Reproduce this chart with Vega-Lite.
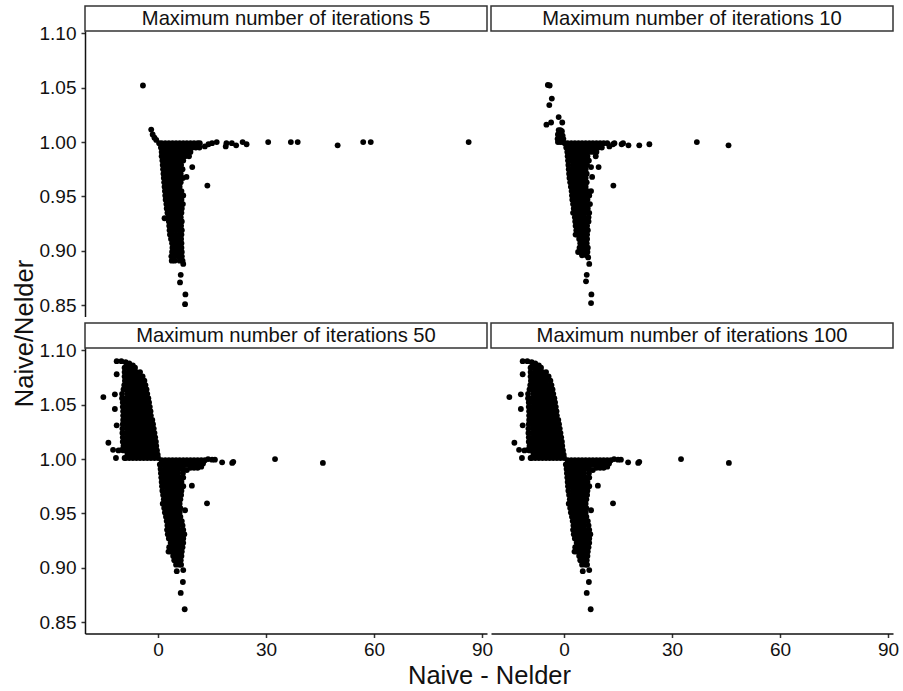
{"$schema":"https://vega.github.io/schema/vega-lite/v6.json","background":"white","padding":{"left":12,"top":5,"right":5,"bottom":0},"config":{"view":{"stroke":null},"font":"Liberation Sans"},"datasets":{"m5":[
{"x":-4.2,"y":1.052},{"x":-1.9,"y":1.0115},{"x":-1.5,"y":1.007},{"x":-1,"y":1.004},{"x":-0.5,"y":1.002},{"x":30.6,"y":1},{"x":36.9,"y":1},{"x":38.8,"y":1},{"x":49.9,"y":0.997},{"x":57,"y":1},{"x":59.1,"y":1},{"x":86.3,"y":1},{"x":24.6,"y":0.998},{"x":23.5,"y":1},{"x":21.7,"y":0.997},{"x":20.5,"y":0.999},{"x":18.8,"y":0.996},{"x":19,"y":0.999},{"x":16.3,"y":1},{"x":15,"y":0.999},{"x":14,"y":0.998},{"x":13,"y":0.996},{"x":13.7,"y":0.96},{"x":9.5,"y":0.977},{"x":7.9,"y":0.968},{"x":1.8,"y":0.93},{"x":6.3,"y":0.878},{"x":6.1,"y":0.871},{"x":7.6,"y":0.86},{"x":7.5,"y":0.851},{"x":7,"y":0.888},
{"x":0.3,"y":0.999},{"x":1,"y":0.999},{"x":2,"y":0.999},{"x":3,"y":0.999},{"x":4,"y":0.999},{"x":5,"y":0.999},{"x":6,"y":0.999},{"x":7,"y":0.999},{"x":8,"y":0.999},{"x":9,"y":0.999},{"x":10,"y":0.999},{"x":11,"y":0.999},{"x":11.6,"y":0.999},
{"x":0.8,"y":0.995},{"x":1.5,"y":0.995},{"x":2.5,"y":0.995},{"x":3.5,"y":0.995},{"x":4.5,"y":0.995},{"x":5.5,"y":0.995},{"x":6.5,"y":0.995},{"x":7.5,"y":0.995},{"x":8.5,"y":0.995},{"x":9.5,"y":0.995},{"x":10.5,"y":0.995},{"x":11.5,"y":0.995},
{"x":1,"y":0.991},{"x":2,"y":0.991},{"x":3,"y":0.991},{"x":4,"y":0.991},{"x":5,"y":0.991},{"x":6,"y":0.991},{"x":7,"y":0.991},{"x":8,"y":0.991},{"x":9,"y":0.991},
{"x":1,"y":0.987},{"x":1.5,"y":0.987},{"x":2.5,"y":0.987},{"x":3.5,"y":0.987},{"x":4.5,"y":0.987},{"x":5.5,"y":0.987},{"x":6.5,"y":0.987},{"x":7.5,"y":0.987},{"x":8.6,"y":0.987},
{"x":1.2,"y":0.983},{"x":2,"y":0.983},{"x":3,"y":0.983},{"x":4,"y":0.983},{"x":5,"y":0.983},{"x":6,"y":0.983},{"x":7,"y":0.983},
{"x":1.3,"y":0.979},{"x":2.5,"y":0.979},{"x":3.5,"y":0.979},{"x":4.5,"y":0.979},{"x":5.5,"y":0.979},{"x":6.4,"y":0.979},
{"x":1.4,"y":0.975},{"x":2,"y":0.975},{"x":3,"y":0.975},{"x":4,"y":0.975},{"x":5,"y":0.975},{"x":6,"y":0.975},{"x":6.8,"y":0.975},
{"x":1.5,"y":0.971},{"x":2.5,"y":0.971},{"x":3.5,"y":0.971},{"x":4.5,"y":0.971},{"x":5.5,"y":0.971},{"x":6.3,"y":0.971},
{"x":1.6,"y":0.967},{"x":2,"y":0.967},{"x":3,"y":0.967},{"x":4,"y":0.967},{"x":5,"y":0.967},{"x":6,"y":0.967},{"x":6.9,"y":0.967},
{"x":1.7,"y":0.963},{"x":2.5,"y":0.963},{"x":3.5,"y":0.963},{"x":4.5,"y":0.963},{"x":5.5,"y":0.963},{"x":6.3,"y":0.963},
{"x":1.8,"y":0.959},{"x":2.2,"y":0.959},{"x":3,"y":0.959},{"x":4,"y":0.959},{"x":5,"y":0.959},{"x":6,"y":0.959},
{"x":1.9,"y":0.955},{"x":2.5,"y":0.955},{"x":3.5,"y":0.955},{"x":4.5,"y":0.955},{"x":5.5,"y":0.955},{"x":6.5,"y":0.955},
{"x":2,"y":0.951},{"x":3,"y":0.951},{"x":4,"y":0.951},{"x":5,"y":0.951},{"x":6,"y":0.951},{"x":7,"y":0.951},
{"x":2.1,"y":0.947},{"x":2.5,"y":0.947},{"x":3.5,"y":0.947},{"x":4.5,"y":0.947},{"x":5.5,"y":0.947},{"x":6.5,"y":0.947},
{"x":2.3,"y":0.943},{"x":3,"y":0.943},{"x":4,"y":0.943},{"x":5,"y":0.943},{"x":6,"y":0.943},{"x":6.9,"y":0.943},
{"x":2.4,"y":0.939},{"x":3.5,"y":0.939},{"x":4.5,"y":0.939},{"x":5.5,"y":0.939},{"x":6.6,"y":0.939},
{"x":2.6,"y":0.935},{"x":3,"y":0.935},{"x":4,"y":0.935},{"x":5,"y":0.935},{"x":6,"y":0.935},{"x":6.5,"y":0.935},
{"x":2.8,"y":0.931},{"x":3.5,"y":0.931},{"x":4.5,"y":0.931},{"x":5.5,"y":0.931},{"x":6.3,"y":0.931},
{"x":3,"y":0.927},{"x":4,"y":0.927},{"x":5,"y":0.927},{"x":6,"y":0.927},{"x":6.6,"y":0.927},
{"x":3.1,"y":0.923},{"x":3.5,"y":0.923},{"x":4.5,"y":0.923},{"x":5.5,"y":0.923},{"x":6.4,"y":0.923},
{"x":3.2,"y":0.919},{"x":4,"y":0.919},{"x":5,"y":0.919},{"x":6,"y":0.919},{"x":6.6,"y":0.919},
{"x":3.3,"y":0.915},{"x":4,"y":0.915},{"x":5,"y":0.915},{"x":6,"y":0.915},{"x":6.5,"y":0.915},
{"x":3.6,"y":0.911},{"x":4.5,"y":0.911},{"x":5.5,"y":0.911},{"x":6.4,"y":0.911},
{"x":3.9,"y":0.907},{"x":5,"y":0.907},{"x":6,"y":0.907},{"x":6.5,"y":0.907},
{"x":4,"y":0.903},{"x":4.5,"y":0.903},{"x":5.5,"y":0.903},{"x":6.5,"y":0.903},
{"x":3.9,"y":0.899},{"x":5,"y":0.899},{"x":6,"y":0.899},{"x":6.6,"y":0.899},
{"x":3.7,"y":0.895},{"x":4.5,"y":0.895},{"x":5.5,"y":0.895},{"x":6.6,"y":0.895},
{"x":3.8,"y":0.891},{"x":4.6,"y":0.891},{"x":6,"y":0.891},{"x":6.8,"y":0.891}
],"m10":[
{"x":-4.5,"y":1.0525},{"x":-4,"y":1.052},{"x":-3.4,"y":1.04},{"x":-4.1,"y":1.034},{"x":-1.5,"y":1.023},{"x":-3.6,"y":1.018},{"x":-0.5,"y":1.018},{"x":-4.9,"y":1.016},
{"x":-1.5,"y":1.011},{"x":-1,"y":1.011},{"x":-0.6,"y":1.01},{"x":-1.7,"y":1.007},{"x":-1,"y":1.007},{"x":-0.4,"y":1.006},{"x":-1.8,"y":1.003},{"x":-1,"y":1.003},{"x":-0.2,"y":1.003},{"x":-1.7,"y":1},{"x":-1,"y":1},{"x":-0.3,"y":1},
{"x":36.9,"y":1},{"x":45.7,"y":0.997},{"x":23.7,"y":0.998},{"x":20.9,"y":0.997},{"x":17.9,"y":0.997},{"x":16.4,"y":0.999},{"x":16,"y":0.998},{"x":14,"y":0.999},{"x":13.6,"y":0.998},{"x":12.6,"y":0.996},
{"x":13.7,"y":0.96},{"x":9.6,"y":0.977},{"x":7.8,"y":0.968},{"x":3.2,"y":0.915},{"x":6.7,"y":0.894},{"x":7,"y":0.888},{"x":6.3,"y":0.878},{"x":6.1,"y":0.872},{"x":7.6,"y":0.86},{"x":7.5,"y":0.852},
{"x":0.2,"y":0.999},{"x":1,"y":0.999},{"x":2,"y":0.999},{"x":3,"y":0.999},{"x":4,"y":0.999},{"x":5,"y":0.999},{"x":6,"y":0.999},{"x":7,"y":0.999},{"x":8,"y":0.999},{"x":9,"y":0.999},{"x":10,"y":0.999},{"x":11,"y":0.999},{"x":12,"y":0.999},
{"x":0.6,"y":0.995},{"x":1.5,"y":0.995},{"x":2.5,"y":0.995},{"x":3.5,"y":0.995},{"x":4.5,"y":0.995},{"x":5.5,"y":0.995},{"x":6.5,"y":0.995},{"x":7.5,"y":0.995},{"x":8.5,"y":0.995},{"x":9.5,"y":0.995},{"x":10.5,"y":0.995},
{"x":0.9,"y":0.991},{"x":2,"y":0.991},{"x":3,"y":0.991},{"x":4,"y":0.991},{"x":5,"y":0.991},{"x":6,"y":0.991},{"x":7,"y":0.991},{"x":8,"y":0.991},{"x":9,"y":0.991},
{"x":1,"y":0.987},{"x":1.5,"y":0.987},{"x":2.5,"y":0.987},{"x":3.5,"y":0.987},{"x":4.5,"y":0.987},{"x":5.5,"y":0.987},{"x":6.5,"y":0.987},{"x":8.8,"y":0.987},
{"x":1.1,"y":0.983},{"x":2,"y":0.983},{"x":3,"y":0.983},{"x":4,"y":0.983},{"x":5,"y":0.983},{"x":6,"y":0.983},{"x":6.9,"y":0.983},
{"x":1.2,"y":0.979},{"x":2.5,"y":0.979},{"x":3.5,"y":0.979},{"x":4.5,"y":0.979},{"x":5.5,"y":0.979},{"x":6.4,"y":0.979},
{"x":1.3,"y":0.975},{"x":2,"y":0.975},{"x":3,"y":0.975},{"x":4,"y":0.975},{"x":5,"y":0.975},{"x":6,"y":0.975},{"x":7.5,"y":0.977},
{"x":1.4,"y":0.971},{"x":2.5,"y":0.971},{"x":3.5,"y":0.971},{"x":4.5,"y":0.971},{"x":5.5,"y":0.971},{"x":6.3,"y":0.971},
{"x":1.5,"y":0.967},{"x":2,"y":0.967},{"x":3,"y":0.967},{"x":4,"y":0.967},{"x":5,"y":0.967},{"x":6,"y":0.967},
{"x":1.7,"y":0.963},{"x":2.5,"y":0.963},{"x":3.5,"y":0.963},{"x":4.5,"y":0.963},{"x":5.5,"y":0.963},{"x":6.3,"y":0.963},
{"x":1.9,"y":0.959},{"x":2.2,"y":0.959},{"x":3,"y":0.959},{"x":4,"y":0.959},{"x":5,"y":0.959},{"x":6,"y":0.959},
{"x":2.1,"y":0.955},{"x":2.5,"y":0.955},{"x":3.5,"y":0.955},{"x":4.5,"y":0.955},{"x":5.5,"y":0.955},{"x":6.5,"y":0.955},{"x":7.5,"y":0.955},
{"x":2.2,"y":0.951},{"x":3,"y":0.951},{"x":4,"y":0.951},{"x":5,"y":0.951},{"x":6,"y":0.951},{"x":7,"y":0.951},
{"x":2.3,"y":0.947},{"x":2.8,"y":0.947},{"x":3.5,"y":0.947},{"x":4.5,"y":0.947},{"x":5.5,"y":0.947},{"x":6.5,"y":0.947},
{"x":2.5,"y":0.943},{"x":3,"y":0.943},{"x":4,"y":0.943},{"x":5,"y":0.943},{"x":6,"y":0.943},{"x":7.2,"y":0.943},
{"x":2.7,"y":0.939},{"x":3.5,"y":0.939},{"x":4.5,"y":0.939},{"x":5.5,"y":0.939},{"x":6.6,"y":0.939},
{"x":2.5,"y":0.935},{"x":3,"y":0.935},{"x":4,"y":0.935},{"x":5,"y":0.935},{"x":6,"y":0.935},{"x":7,"y":0.935},
{"x":3,"y":0.931},{"x":3.5,"y":0.931},{"x":4.5,"y":0.931},{"x":5.5,"y":0.931},{"x":6.8,"y":0.931},
{"x":3.1,"y":0.927},{"x":4,"y":0.927},{"x":5,"y":0.927},{"x":6,"y":0.927},{"x":6.8,"y":0.927},
{"x":3.2,"y":0.923},{"x":3.5,"y":0.923},{"x":4.5,"y":0.923},{"x":5.5,"y":0.923},{"x":6.4,"y":0.923},
{"x":3.4,"y":0.919},{"x":4,"y":0.919},{"x":5,"y":0.919},{"x":6,"y":0.919},{"x":6.6,"y":0.919},
{"x":3.6,"y":0.915},{"x":4.5,"y":0.915},{"x":5.5,"y":0.915},{"x":6.4,"y":0.915},
{"x":4.2,"y":0.911},{"x":5,"y":0.911},{"x":6,"y":0.911},{"x":6.4,"y":0.911},
{"x":4.5,"y":0.907},{"x":5.5,"y":0.907},{"x":6.3,"y":0.907},
{"x":4.3,"y":0.903},{"x":5,"y":0.903},{"x":6,"y":0.903},{"x":6.6,"y":0.903},
{"x":3.9,"y":0.899},{"x":4.7,"y":0.899},{"x":5.5,"y":0.899},{"x":6.5,"y":0.899},
{"x":5,"y":0.896},{"x":6.2,"y":0.896}
],"m50":[
{"x":-15.2,"y":1.057},{"x":-11.5,"y":1.078},{"x":-12,"y":1.0595},{"x":-12,"y":1.046},{"x":-11.5,"y":1.031},{"x":-13.8,"y":1.015},{"x":-12.5,"y":1.0085},{"x":-11,"y":1.008},{"x":-10.1,"y":1.0085},{"x":-11.7,"y":1.001},
{"x":32.5,"y":1},{"x":45.8,"y":0.9965},{"x":20.9,"y":0.9975},{"x":20.6,"y":0.9965},{"x":17.8,"y":0.997},{"x":15.8,"y":0.9995},{"x":15,"y":0.9995},{"x":13.9,"y":1},{"x":12.6,"y":0.998},{"x":13.6,"y":0.9593},{"x":9.4,"y":0.9756},{"x":7.5,"y":0.953},
{"x":7,"y":0.898},{"x":5.2,"y":0.897},{"x":6.9,"y":0.887},{"x":6.3,"y":0.877},{"x":7.4,"y":0.862},
{"x":-11.5,"y":1.09},{"x":-10.2,"y":1.09},{"x":-9,"y":1.089},{"x":-8,"y":1.088},{"x":-7,"y":1.086},
{"x":-9.3,"y":1.084},{"x":-8.5,"y":1.084},{"x":-7.5,"y":1.084},{"x":-6.4,"y":1.084},
{"x":-9.3,"y":1.08},{"x":-8,"y":1.08},{"x":-7,"y":1.08},{"x":-6,"y":1.08},{"x":-5,"y":1.08},
{"x":-9.3,"y":1.076},{"x":-8.5,"y":1.076},{"x":-7.5,"y":1.076},{"x":-6.5,"y":1.076},{"x":-5.5,"y":1.076},{"x":-4.3,"y":1.076},
{"x":-9.2,"y":1.072},{"x":-8,"y":1.072},{"x":-7,"y":1.072},{"x":-6,"y":1.072},{"x":-5,"y":1.072},{"x":-3.8,"y":1.072},
{"x":-9.4,"y":1.068},{"x":-8.5,"y":1.068},{"x":-7.5,"y":1.068},{"x":-6.5,"y":1.068},{"x":-5.5,"y":1.068},{"x":-4.5,"y":1.068},{"x":-3.5,"y":1.068},
{"x":-9.6,"y":1.064},{"x":-9,"y":1.064},{"x":-8,"y":1.064},{"x":-7,"y":1.064},{"x":-6,"y":1.064},{"x":-5,"y":1.064},{"x":-4,"y":1.064},{"x":-3.2,"y":1.064},
{"x":-10,"y":1.06},{"x":-8.5,"y":1.06},{"x":-7.5,"y":1.06},{"x":-6.5,"y":1.06},{"x":-5.5,"y":1.06},{"x":-4.5,"y":1.06},{"x":-3.5,"y":1.06},{"x":-3,"y":1.06},
{"x":-10,"y":1.056},{"x":-9,"y":1.056},{"x":-8,"y":1.056},{"x":-7,"y":1.056},{"x":-6,"y":1.056},{"x":-5,"y":1.056},{"x":-4,"y":1.056},{"x":-3,"y":1.056},{"x":-2.7,"y":1.056},
{"x":-9.8,"y":1.052},{"x":-8.5,"y":1.052},{"x":-7.5,"y":1.052},{"x":-6.5,"y":1.052},{"x":-5.5,"y":1.052},{"x":-4.5,"y":1.052},{"x":-3.5,"y":1.052},{"x":-2.5,"y":1.052},
{"x":-9.8,"y":1.048},{"x":-9,"y":1.048},{"x":-8,"y":1.048},{"x":-7,"y":1.048},{"x":-6,"y":1.048},{"x":-5,"y":1.048},{"x":-4,"y":1.048},{"x":-3,"y":1.048},{"x":-2.3,"y":1.048},
{"x":-9.7,"y":1.044},{"x":-8.5,"y":1.044},{"x":-7.5,"y":1.044},{"x":-6.5,"y":1.044},{"x":-5.5,"y":1.044},{"x":-4.5,"y":1.044},{"x":-3.5,"y":1.044},{"x":-2.5,"y":1.044},{"x":-2.1,"y":1.044},
{"x":-9.7,"y":1.04},{"x":-9,"y":1.04},{"x":-8,"y":1.04},{"x":-7,"y":1.04},{"x":-6,"y":1.04},{"x":-5,"y":1.04},{"x":-4,"y":1.04},{"x":-3,"y":1.04},{"x":-2,"y":1.04},
{"x":-9.7,"y":1.036},{"x":-8.5,"y":1.036},{"x":-7.5,"y":1.036},{"x":-6.5,"y":1.036},{"x":-5.5,"y":1.036},{"x":-4.5,"y":1.036},{"x":-3.5,"y":1.036},{"x":-2.5,"y":1.036},{"x":-1.6,"y":1.036},
{"x":-9.8,"y":1.032},{"x":-9,"y":1.032},{"x":-8,"y":1.032},{"x":-7,"y":1.032},{"x":-6,"y":1.032},{"x":-5,"y":1.032},{"x":-4,"y":1.032},{"x":-3,"y":1.032},{"x":-2,"y":1.032},{"x":-1.4,"y":1.032},
{"x":-9.9,"y":1.028},{"x":-8.5,"y":1.028},{"x":-7.5,"y":1.028},{"x":-6.5,"y":1.028},{"x":-5.5,"y":1.028},{"x":-4.5,"y":1.028},{"x":-3.5,"y":1.028},{"x":-2.5,"y":1.028},{"x":-1.5,"y":1.028},{"x":-1.2,"y":1.028},
{"x":-9.9,"y":1.024},{"x":-9,"y":1.024},{"x":-8,"y":1.024},{"x":-7,"y":1.024},{"x":-6,"y":1.024},{"x":-5,"y":1.024},{"x":-4,"y":1.024},{"x":-3,"y":1.024},{"x":-2,"y":1.024},{"x":-1,"y":1.024},
{"x":-9.8,"y":1.02},{"x":-8.5,"y":1.02},{"x":-7.5,"y":1.02},{"x":-6.5,"y":1.02},{"x":-5.5,"y":1.02},{"x":-4.5,"y":1.02},{"x":-3.5,"y":1.02},{"x":-2.5,"y":1.02},{"x":-1.5,"y":1.02},{"x":-0.8,"y":1.02},
{"x":-9.8,"y":1.016},{"x":-9,"y":1.016},{"x":-8,"y":1.016},{"x":-7,"y":1.016},{"x":-6,"y":1.016},{"x":-5,"y":1.016},{"x":-4,"y":1.016},{"x":-3,"y":1.016},{"x":-2,"y":1.016},{"x":-1,"y":1.016},{"x":-0.6,"y":1.016},
{"x":-9.6,"y":1.012},{"x":-8.5,"y":1.012},{"x":-7.5,"y":1.012},{"x":-6.5,"y":1.012},{"x":-5.5,"y":1.012},{"x":-4.5,"y":1.012},{"x":-3.5,"y":1.012},{"x":-2.5,"y":1.012},{"x":-1.5,"y":1.012},{"x":-0.5,"y":1.012},
{"x":-9.6,"y":1.008},{"x":-9,"y":1.008},{"x":-8,"y":1.008},{"x":-7,"y":1.008},{"x":-6,"y":1.008},{"x":-5,"y":1.008},{"x":-4,"y":1.008},{"x":-3,"y":1.008},{"x":-2,"y":1.008},{"x":-1,"y":1.008},{"x":-0.3,"y":1.008},
{"x":-8.5,"y":1.004},{"x":-7.5,"y":1.004},{"x":-6.5,"y":1.004},{"x":-5.5,"y":1.004},{"x":-4.5,"y":1.004},{"x":-3.5,"y":1.004},{"x":-2.5,"y":1.004},{"x":-1.5,"y":1.004},{"x":-0.5,"y":1.004},{"x":-0.1,"y":1.004},
{"x":-9.3,"y":1.001},{"x":-9,"y":1.001},{"x":-8,"y":1.001},{"x":-7,"y":1.001},{"x":-6,"y":1.001},{"x":-5,"y":1.001},{"x":-4,"y":1.001},{"x":-3,"y":1.001},{"x":-2,"y":1.001},{"x":-1,"y":1.001},{"x":0,"y":1.001},
{"x":1,"y":0.999},{"x":2,"y":0.999},{"x":3,"y":0.999},{"x":4,"y":0.999},{"x":5,"y":0.999},{"x":6,"y":0.999},{"x":7,"y":0.999},{"x":8,"y":0.999},{"x":9,"y":0.999},{"x":10,"y":0.999},{"x":11,"y":0.999},{"x":12,"y":0.999},
{"x":0.5,"y":0.995},{"x":1.5,"y":0.995},{"x":2.5,"y":0.995},{"x":3.5,"y":0.995},{"x":4.5,"y":0.995},{"x":5.5,"y":0.995},{"x":6.5,"y":0.995},{"x":7.5,"y":0.995},{"x":8.5,"y":0.995},{"x":9.5,"y":0.995},{"x":10.5,"y":0.995},{"x":11.5,"y":0.995},
{"x":0.7,"y":0.991},{"x":2,"y":0.991},{"x":3,"y":0.991},{"x":4,"y":0.991},{"x":5,"y":0.991},{"x":6,"y":0.991},{"x":7,"y":0.991},
{"x":0.8,"y":0.987},{"x":1.5,"y":0.987},{"x":2.5,"y":0.987},{"x":3.5,"y":0.987},{"x":4.5,"y":0.987},{"x":5.5,"y":0.987},{"x":6.9,"y":0.987},
{"x":0.9,"y":0.983},{"x":2,"y":0.983},{"x":3,"y":0.983},{"x":4,"y":0.983},{"x":5,"y":0.983},{"x":6,"y":0.983},{"x":7,"y":0.983},
{"x":1,"y":0.979},{"x":1.5,"y":0.979},{"x":2.5,"y":0.979},{"x":3.5,"y":0.979},{"x":4.5,"y":0.979},{"x":5.5,"y":0.979},{"x":6.5,"y":0.979},
{"x":1.1,"y":0.975},{"x":2,"y":0.975},{"x":3,"y":0.975},{"x":4,"y":0.975},{"x":5,"y":0.975},{"x":6,"y":0.975},{"x":7,"y":0.975},
{"x":1.2,"y":0.971},{"x":2.5,"y":0.971},{"x":3.5,"y":0.971},{"x":4.5,"y":0.971},{"x":5.5,"y":0.971},{"x":6.5,"y":0.971},
{"x":1.4,"y":0.967},{"x":2,"y":0.967},{"x":3,"y":0.967},{"x":4,"y":0.967},{"x":5,"y":0.967},{"x":6,"y":0.967},{"x":6.4,"y":0.967},
{"x":1.6,"y":0.963},{"x":2.5,"y":0.963},{"x":3.5,"y":0.963},{"x":4.5,"y":0.963},{"x":5.5,"y":0.963},{"x":6.2,"y":0.963},
{"x":1.3,"y":0.959},{"x":2,"y":0.959},{"x":3,"y":0.959},{"x":4,"y":0.959},{"x":5,"y":0.959},{"x":6,"y":0.959},
{"x":1.7,"y":0.955},{"x":2.5,"y":0.955},{"x":3.5,"y":0.955},{"x":4.5,"y":0.955},{"x":5.5,"y":0.955},{"x":6.2,"y":0.955},
{"x":1.9,"y":0.951},{"x":3,"y":0.951},{"x":4,"y":0.951},{"x":5,"y":0.951},{"x":6,"y":0.951},
{"x":2.2,"y":0.947},{"x":2.7,"y":0.947},{"x":3.5,"y":0.947},{"x":4.5,"y":0.947},{"x":5.5,"y":0.947},{"x":6.2,"y":0.947},
{"x":2.4,"y":0.943},{"x":3,"y":0.943},{"x":4,"y":0.943},{"x":5,"y":0.943},{"x":6,"y":0.943},{"x":6.6,"y":0.943},
{"x":2.6,"y":0.939},{"x":3.5,"y":0.939},{"x":4.5,"y":0.939},{"x":5.5,"y":0.939},{"x":6.8,"y":0.939},
{"x":2.5,"y":0.935},{"x":3,"y":0.935},{"x":4,"y":0.935},{"x":5,"y":0.935},{"x":6,"y":0.935},{"x":7,"y":0.935},
{"x":2.7,"y":0.931},{"x":3.5,"y":0.931},{"x":4.5,"y":0.931},{"x":5.5,"y":0.931},{"x":6.5,"y":0.931},{"x":7.3,"y":0.931},
{"x":3,"y":0.927},{"x":4,"y":0.927},{"x":5,"y":0.927},{"x":6,"y":0.927},{"x":7,"y":0.927},
{"x":3.5,"y":0.923},{"x":4.5,"y":0.923},{"x":5.5,"y":0.923},{"x":6.5,"y":0.923},{"x":7,"y":0.923},
{"x":3.1,"y":0.919},{"x":4,"y":0.919},{"x":5,"y":0.919},{"x":6,"y":0.919},{"x":6.8,"y":0.919},
{"x":2.9,"y":0.915},{"x":3.5,"y":0.915},{"x":4.5,"y":0.915},{"x":5.5,"y":0.915},{"x":6.6,"y":0.915},
{"x":4.2,"y":0.911},{"x":5,"y":0.911},{"x":6,"y":0.911},{"x":6.5,"y":0.911},
{"x":4.5,"y":0.907},{"x":5.5,"y":0.907},{"x":6.3,"y":0.907},
{"x":5,"y":0.903},{"x":6,"y":0.903},{"x":6.4,"y":0.903},
{"x":12.5,"y":0.996},{"x":13,"y":0.999},{"x":12,"y":0.993},{"x":9,"y":0.992},{"x":10,"y":0.992},{"x":11,"y":0.992},{"x":8,"y":0.99}
]},
"bounds":"flush","columns":2,"spacing":{"row":0,"column":4},
"concat":[
{"width":402,"height":25,"view":{"stroke":"#333","strokeWidth":1.5},"data":{"values":[{"label":"Maximum number of iterations 5"}]},"mark":{"type":"text","fontSize":20.2,"color":"#111"},"encoding":{"text":{"field":"label"}}},
{"width":402,"height":25,"view":{"stroke":"#333","strokeWidth":1.5},"data":{"values":[{"label":"Maximum number of iterations 10"}]},"mark":{"type":"text","fontSize":20.2,"color":"#111"},"encoding":{"text":{"field":"label"}}},
{"width":402,"height":285.5,"data":{"name":"m5"},"mark":{"type":"point","filled":true,"size":34,"color":"black","opacity":1},"encoding":{
"x":{"field":"x","type":"quantitative","scale":{"domain":[-20.3,91.4],"nice":false,"zero":false},"axis":null},
"y":{"field":"y","type":"quantitative","scale":{"domain":[0.8397,1.1021],"nice":false,"zero":false},"axis":{"title":"Naive/Nelder","values":[0.85,0.9,0.95,1,1.05,1.1],"format":".2f","grid":false,"domainColor":"#111","domainWidth":1.5,"tickColor":"#333","tickWidth":1.5,"tickSize":4,"labelFontSize":19,"labelColor":"#111","labelPadding":5,"titleFontSize":25.5,"titleFontWeight":"normal","titleColor":"#111","titleX":-61,"titleY":302,"titleBaseline":"middle"}}}},
{"width":402,"height":285.5,"data":{"name":"m10"},"mark":{"type":"point","filled":true,"size":34,"color":"black","opacity":1},"encoding":{
"x":{"field":"x","type":"quantitative","scale":{"domain":[-20.3,91.4],"nice":false,"zero":false},"axis":null},
"y":{"field":"y","type":"quantitative","scale":{"domain":[0.8397,1.1021],"nice":false,"zero":false},"axis":null}}},
{"width":402,"height":6,"data":{"values":[]},"mark":"point"},
{"width":402,"height":6,"data":{"values":[]},"mark":"point"},
{"width":402,"height":25,"view":{"stroke":"#333","strokeWidth":1.5},"data":{"values":[{"label":"Maximum number of iterations 50"}]},"mark":{"type":"text","fontSize":20.2,"color":"#111"},"encoding":{"text":{"field":"label"}}},
{"width":402,"height":25,"view":{"stroke":"#333","strokeWidth":1.5},"data":{"values":[{"label":"Maximum number of iterations 100"}]},"mark":{"type":"text","fontSize":20.2,"color":"#111"},"encoding":{"text":{"field":"label"}}},
{"width":402,"height":285.5,"data":{"name":"m50"},"mark":{"type":"point","filled":true,"size":34,"color":"black","opacity":1},"encoding":{
"x":{"field":"x","type":"quantitative","scale":{"domain":[-20.3,91.4],"nice":false,"zero":false},"axis":{"title":"Naive - Nelder","values":[0,30,60,90],"grid":false,"domainColor":"#111","domainWidth":1.5,"tickColor":"#333","tickWidth":1.5,"tickSize":4,"labelFontSize":19,"labelColor":"#111","labelPadding":3,"titleFontSize":25.5,"titleFontWeight":"normal","titleColor":"#111","titleX":404,"titleY":42,"titleBaseline":"middle"}},
"y":{"field":"y","type":"quantitative","scale":{"domain":[0.8397,1.1021],"nice":false,"zero":false},"axis":{"title":null,"values":[0.85,0.9,0.95,1,1.05,1.1],"format":".2f","grid":false,"domainColor":"#111","domainWidth":1.5,"tickColor":"#333","tickWidth":1.5,"tickSize":4,"labelFontSize":19,"labelColor":"#111","labelPadding":5}}}},
{"width":402,"height":285.5,"data":{"name":"m50"},"mark":{"type":"point","filled":true,"size":34,"color":"black","opacity":1},"encoding":{
"x":{"field":"x","type":"quantitative","scale":{"domain":[-20.3,91.4],"nice":false,"zero":false},"axis":{"title":null,"values":[0,30,60,90],"grid":false,"domainColor":"#111","domainWidth":1.5,"tickColor":"#333","tickWidth":1.5,"tickSize":4,"labelFontSize":19,"labelColor":"#111","labelPadding":3}},
"y":{"field":"y","type":"quantitative","scale":{"domain":[0.8397,1.1021],"nice":false,"zero":false},"axis":null}}}
]}
